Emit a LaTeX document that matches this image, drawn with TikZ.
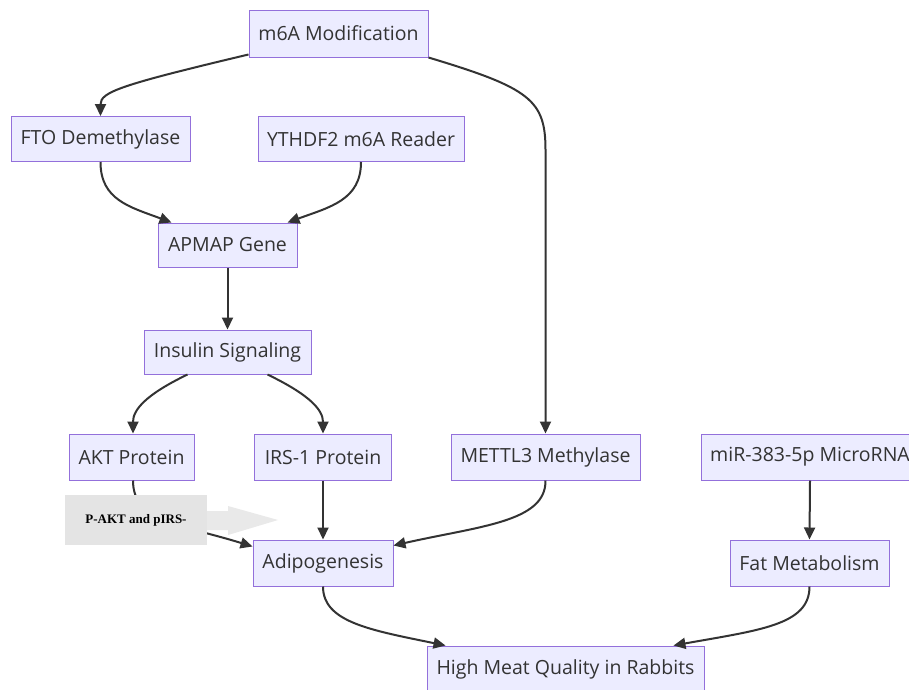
\documentclass[tikz,border=0pt]{standalone}
\usepackage{fontspec}
\setmainfont{Open Sans}
\newfontfamily\serifbold{Liberation Serif}
\usetikzlibrary{arrows.meta}
\definecolor{boxfill}{HTML}{ECECFF}
\definecolor{boxline}{HTML}{9370DB}
\definecolor{ink}{HTML}{333333}
\definecolor{grayblock}{HTML}{E4E4E4}
\definecolor{grayarrow}{HTML}{E9E9E9}
\tikzset{
  mbox/.style={draw=boxline, line width=1pt, fill=boxfill, text=ink, inner sep=0pt,
    font=\fontsize{19.5}{22}\selectfont, anchor=center},
  edge/.style={draw=ink, line width=2pt, -{Triangle[length=12pt,width=11pt]}},
}
\begin{document}
\begin{tikzpicture}[x=1pt,y=-1pt]
\clip (0,0) rectangle (909,689);
\fill[white] (0,0) rectangle (909,689);

\node[mbox, minimum width=179pt, minimum height=47pt] (m6a) at (338.5,33.5) {m6A Modification};
\node[mbox, minimum width=179pt, minimum height=45pt] (fto) at (100.5,139) {FTO Demethylase};
\node[mbox, minimum width=206pt, minimum height=45pt] (yth) at (361,139) {YTHDF2 m6A Reader};
\node[mbox, minimum width=139pt, minimum height=44pt] (apmap) at (227.5,245) {APMAP Gene};
\node[mbox, minimum width=167pt, minimum height=44pt] (ins) at (227.5,352) {Insulin Signaling};
\node[mbox, minimum width=125pt, minimum height=46pt] (akt) at (131.5,457) {AKT Protein};
\node[mbox, minimum width=137pt, minimum height=46pt] (irs) at (323,457) {IRS-1 Protein};
\node[mbox, minimum width=189pt, minimum height=46pt] (mettl) at (545.5,457) {METTL3 Methylase};
\node[mbox, minimum width=218pt, minimum height=46pt] (mir) at (810,457) {miR-383-5p MicroRNA};
\node[mbox, minimum width=140pt, minimum height=46pt] (adip) at (323,563) {Adipogenesis};
\node[mbox, minimum width=159pt, minimum height=46pt] (fat) at (809.5,563) {Fat Metabolism};
\node[mbox, minimum width=277pt, minimum height=46pt] (high) at (565.5,669) {High Meat Quality in Rabbits};

% edges
\draw[edge] ([yshift=3pt]m6a.south west) .. controls (120,85) and (100.5,92) .. (fto.north);
\draw[edge] (m6a.south east) .. controls (530,88) and (545.5,100) .. (545.5,150) -- (mettl.north);
\draw[edge] (fto.south) .. controls (100.5,200) and (130,207) .. ([xshift=14pt]apmap.north west);
\draw[edge] (yth.south) .. controls (361,200) and (330,207) .. ([xshift=-10pt]apmap.north east);
\draw[edge] (apmap.south) -- (ins.north);
\draw[edge] ([xshift=-40pt]ins.south) .. controls (145,395) and (133,410) .. ([xshift=1.5pt]akt.north);
\draw[edge] ([xshift=40pt]ins.south) .. controls (310,395) and (323,410) .. (irs.north);
\draw[edge] ([xshift=1.5pt]akt.south) .. controls (133,522) and (180,524) .. ([yshift=-7pt]adip.north west);
\draw[edge] (irs.south) -- (adip.north);
\draw[edge] (mettl.south) .. controls (546,522) and (480,526) .. ([yshift=-6pt]adip.north east);
\draw[edge] (mir.south) -- (fat.north);
\draw[edge] (adip.south) .. controls (323,622) and (370,630) .. ([xshift=19pt]high.north west);
\draw[edge] (fat.south) .. controls (809.5,625) and (760,630) .. ([xshift=-31pt]high.north east);

% gray overlay label
\fill[grayarrow] (207,511) -- (228,511) -- (228,506) -- (278,520) -- (228,535) -- (228,530) -- (207,530) -- cycle;
\node[fill=grayblock, minimum width=142pt, minimum height=50pt, inner sep=0pt,
  font=\serifbold\bfseries\fontsize{13}{15}\selectfont, text=black] (pakt) at (136,520) {P-AKT and pIRS-};
\end{tikzpicture}
\end{document}
